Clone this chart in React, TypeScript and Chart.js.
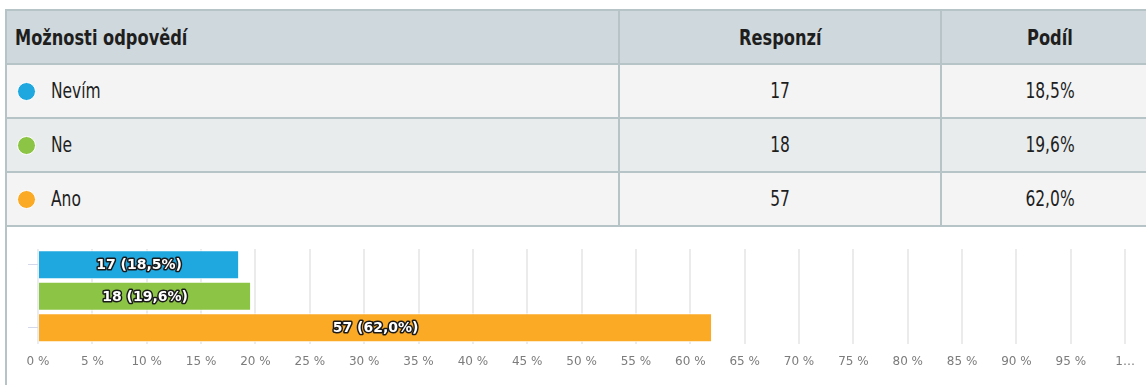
import React, { useEffect, useRef } from 'react';
import { Chart, registerables } from 'chart.js';

Chart.register(...registerables);

const categories = ['Nevím', 'Ne', 'Ano'];
const responses = [17, 18, 57];
const shares = [18.5, 19.6, 62.0];
const colors = ['#1fa8e0', '#8cc546', '#fbaa26'];
const columnHeaders = ['Možnosti odpovědí', 'Responzí', 'Podíl'];
const xTickValues = [0, 5, 10, 15, 20, 25, 30, 35, 40, 45, 50, 55, 60, 65, 70, 75, 80, 85, 90, 95, 100];
const xTickLabels = ['0 %', '5 %', '10 %', '15 %', '20 %', '25 %', '30 %', '35 %', '40 %', '45 %', '50 %', '55 %', '60 %', '65 %', '70 %', '75 %', '80 %', '85 %', '90 %', '95 %', '1…'];

const fmtShare = (v: number) => v.toFixed(1).replace('.', ',') + '%';

const BORDER = '#b7c4c7';
const TABLE_FONT = '"DejaVu Sans Condensed", "DejaVu Sans", sans-serif';

const barLabelPlugin = {
  id: 'barLabels',
  afterDatasetsDraw(chart: any) {
    const ctx = chart.ctx;
    const meta = chart.getDatasetMeta(0);
    ctx.save();
    ctx.font = 'bold 14px "DejaVu Sans", sans-serif';
    ctx.textAlign = 'center';
    ctx.textBaseline = 'middle';
    ctx.lineJoin = 'round';
    meta.data.forEach((bar: any, i: number) => {
      const text = `${responses[i]} (${fmtShare(shares[i])})`;
      const x = (bar.base + bar.x) / 2;
      const y = bar.y + 1;
      ctx.lineWidth = 3;
      ctx.strokeStyle = '#1a1a1a';
      ctx.strokeText(text, x, y);
      ctx.fillStyle = '#ffffff';
      ctx.fillText(text, x, y);
    });
    ctx.restore();
  },
};

const Narrow = ({ children, origin }: { children: React.ReactNode; origin: string }) => (
  <span style={{ display: 'inline-block', transform: 'scaleX(0.82)', transformOrigin: origin, whiteSpace: 'nowrap' }}>
    {children}
  </span>
);

export default function App() {
  const canvasRef = useRef<HTMLCanvasElement>(null);

  useEffect(() => {
    document.body.style.margin = '0';
    const chart = new Chart(canvasRef.current!, {
      type: 'bar',
      data: {
        labels: categories,
        datasets: [
          {
            data: shares,
            backgroundColor: colors,
            borderColor: '#ffffff',
            borderWidth: 1,
            barPercentage: 0.92,
            categoryPercentage: 1,
          },
        ],
      },
      options: {
        indexAxis: 'y',
        animation: false,
        responsive: true,
        maintainAspectRatio: false,
        layout: { padding: { left: 21, right: 14, top: 22, bottom: 5 } },
        plugins: { legend: { display: false }, tooltip: { enabled: false } },
        scales: {
          x: {
            type: 'linear',
            min: 0,
            max: 100,
            afterBuildTicks: (axis: any) => {
              axis.ticks = xTickValues.map((v) => ({ value: v }));
            },
            ticks: {
              autoSkip: false,
              maxRotation: 0,
              padding: 11,
              color: '#7c7c7c',
              font: { family: '"DejaVu Sans", sans-serif', size: 12 },
              callback: (v: any) => xTickLabels[xTickValues.indexOf(Number(v))],
            },
            grid: { color: '#ebebeb', lineWidth: 2, drawTicks: false },
            border: { display: false },
          },
          y: {
            type: 'category',
            ticks: { display: false },
            grid: {
              offset: false,
              drawOnChartArea: false,
              drawTicks: true,
              tickLength: 10,
              color: (c: any) => (c.index === 1 ? 'rgba(0,0,0,0)' : '#d3d9ea'),
            },
            border: { display: true, color: '#e9edf4' },
          },
        },
      },
      plugins: [barLabelPlugin],
    });
    return () => chart.destroy();
  }, []);

  const cellBase: React.CSSProperties = {
    boxSizing: 'border-box',
    height: 52,
    display: 'flex',
    alignItems: 'center',
    flex: 'none',
    overflow: 'hidden',
  };

  const row = (bg: string, cells: React.ReactNode[], bold: boolean, key: string) => (
    <div
      key={key}
      style={{
        display: 'flex',
        background: bg,
        borderBottom: `2px solid ${BORDER}`,
        fontFamily: TABLE_FONT,
        fontWeight: bold ? 700 : 400,
        fontSize: bold ? 22 : 21,
        color: '#1e1e1e',
        width: 1151,
      }}
    >
      <div style={{ ...cellBase, width: 611, paddingLeft: bold ? 8 : 10 }}>{cells[0]}</div>
      <div style={{ ...cellBase, width: 322, borderLeft: `2px solid ${BORDER}`, justifyContent: 'center' }}>
        <Narrow origin="center">{cells[1]}</Narrow>
      </div>
      <div style={{ ...cellBase, width: 218, borderLeft: `2px solid ${BORDER}`, justifyContent: 'center' }}>
        <Narrow origin="center">{cells[2]}</Narrow>
      </div>
    </div>
  );

  const rowBgs = ['#f4f4f4', '#e9eced', '#f4f4f4'];

  return (
    <div
      style={{
        position: 'absolute',
        left: 5,
        top: 9,
        width: 1141,
        height: 376,
        boxSizing: 'border-box',
        borderLeft: `2px solid ${BORDER}`,
        overflow: 'hidden',
        background: '#ffffff',
      }}
    >
      <div style={{ borderTop: `2px solid ${BORDER}`, width: 1151 }}>
        {row('#cfd8dc', [<Narrow key="h" origin="left">{columnHeaders[0]}</Narrow>, columnHeaders[1], columnHeaders[2]], true, 'h')}
        {categories.map((c, i) =>
          row(
            rowBgs[i],
            [
              <span key="a" style={{ display: 'flex', alignItems: 'center' }}>
                <span
                  style={{
                    display: 'inline-block',
                    flex: 'none',
                    width: 17,
                    height: 17,
                    borderRadius: '50%',
                    background: colors[i],
                    border: '1px solid #ffffff',
                    marginRight: 15,
                  }}
                />
                <Narrow origin="left">{c}</Narrow>
              </span>,
              String(responses[i]),
              fmtShare(shares[i]),
            ],
            false,
            'r' + i
          )
        )}
      </div>
      <div style={{ position: 'relative', width: 1139, height: 158 }}>
        <canvas ref={canvasRef} />
      </div>
    </div>
  );
}
